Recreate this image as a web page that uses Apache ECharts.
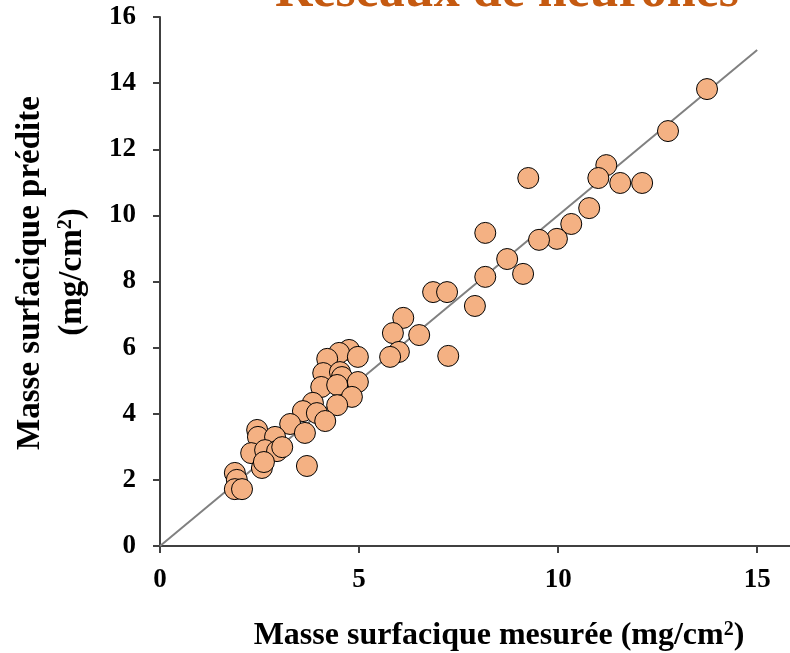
<!DOCTYPE html>
<html>
<head>
<meta charset="utf-8">
<script src="https://cdn.jsdelivr.net/npm/echarts@6/dist/echarts.min.js"></script>
<style>
html,body{margin:0;padding:0;background:#fff;}
#chart{width:790px;height:653px;}
</style>
</head>
<body>
<div id="chart"></div>
<script>
var titleText = 'Réseaux de neurones';
var xName = 'Masse surfacique mesurée (mg/cm';
var yName1 = 'Masse surfacique prédite';
var yName2 = '(mg/cm';
var xTicks = [0, 5, 10, 15];
var yTicks = [0, 2, 4, 6, 8, 10, 12, 14, 16];
var measured = [13.74,12.76,11.21,11.01,9.25,11.56,12.11,10.78,10.33,9.97,9.52,8.17,8.72,9.12,8.17,7.91,6.86,7.21,7.24,6.11,6.51,5.85,6.00,5.78,4.75,4.50,4.20,4.97,4.10,4.52,4.57,4.05,4.45,4.97,4.82,4.45,3.84,3.59,3.94,4.15,3.27,3.64,3.69,2.44,2.46,2.89,2.29,2.64,2.94,3.07,2.56,2.61,1.88,1.93,1.88,2.06];
var predicted = [13.82,12.55,11.52,11.13,11.13,10.98,10.98,10.22,9.74,9.29,9.26,9.47,8.68,8.23,8.14,7.26,7.68,7.68,5.75,6.90,6.38,6.44,5.87,5.72,5.93,5.84,5.66,5.72,5.23,5.26,5.11,4.81,4.87,4.96,4.51,4.26,4.33,4.08,4.02,3.78,3.69,3.42,2.42,3.51,3.30,3.30,2.81,2.90,2.87,2.99,2.36,2.54,2.21,2.00,1.72,1.72];
var lineX = [0, 15];
var lineY = [0, 15];

var pts = measured.map(function(v, i){ return [v, predicted[i]]; });
var linePts = lineX.map(function(v, i){ return [v, lineY[i]]; });

var chart = echarts.init(document.getElementById('chart'), null, {renderer:'canvas'});
var font = 'Liberation Serif';
chart.setOption({
  animation: false,
  grid: {left: 160, top: 17, width: 637, height: 529, containLabel: false, outerBoundsMode: 'none'},
  xAxis: {
    type: 'value', min: 0, max: 16, interval: 5,
    splitLine: {show: false},
    axisLine: {lineStyle: {color: '#404040', width: 2}},
    axisTick: {show: true, length: 7, inside: false, lineStyle: {color: '#404040', width: 2}},
    axisLabel: {
      margin: 21, color: '#000', fontFamily: font, fontWeight: 'bold', fontSize: 27,
      formatter: function(v){ return xTicks.indexOf(v) >= 0 ? String(v) : ''; }
    }
  },
  yAxis: {
    type: 'value', min: 0, max: 16, interval: 2,
    splitLine: {show: false},
    axisLine: {lineStyle: {color: '#404040', width: 2}},
    axisTick: {show: true, length: 7, inside: false, lineStyle: {color: '#404040', width: 2}},
    axisLabel: {
      margin: 24, color: '#000', fontFamily: font, fontWeight: 'bold', fontSize: 27,
      formatter: function(v){ return yTicks.indexOf(v) >= 0 ? String(v) : ''; }
    }
  },
  graphic: [
    {type: 'text', x: 507, y: 19, style: {text: titleText, fill: '#C55A11', font: 'bold 52px "Liberation Serif"', align: 'center', verticalAlign: 'bottom'}},
    {type: 'text', x: 499, y: 636, style: {text: '{a|' + xName + '}{s|2}{a|)}', align: 'center', verticalAlign: 'middle',
      rich: {a: {fontFamily: font, fontWeight: 'bold', fontSize: 32, fill: '#000'}, s: {fontFamily: font, fontWeight: 'bold', fontSize: 20, fill: '#000', padding:[0,0,13,0]}}}},
    {type: 'text', rotation: Math.PI/2, x: 30, y: 273, style: {text: yName1, align: 'center', verticalAlign: 'middle', fontFamily: font, fontWeight: 'bold', fontSize: 33, fill: '#000'}},
    {type: 'text', rotation: Math.PI/2, x: 72, y: 272, style: {text: '{a|' + yName2 + '}{s|2}{a|)}', align: 'center', verticalAlign: 'middle',
      rich: {a: {fontFamily: font, fontWeight: 'bold', fontSize: 33, fill: '#000'}, s: {fontFamily: font, fontWeight: 'bold', fontSize: 20, fill: '#000', padding:[0,0,13,0]}}}}
  ],
  series: [
    {type: 'line', data: linePts, symbol: 'none', silent: true, z: 1,
      lineStyle: {color: '#808080', width: 2}},
    {type: 'scatter', data: pts, symbol: 'circle', symbolSize: 21, z: 2,
      itemStyle: {color: '#F4B183', borderColor: '#000', borderWidth: 1, opacity: 1}}
  ]
});
</script>
</body>
</html>
